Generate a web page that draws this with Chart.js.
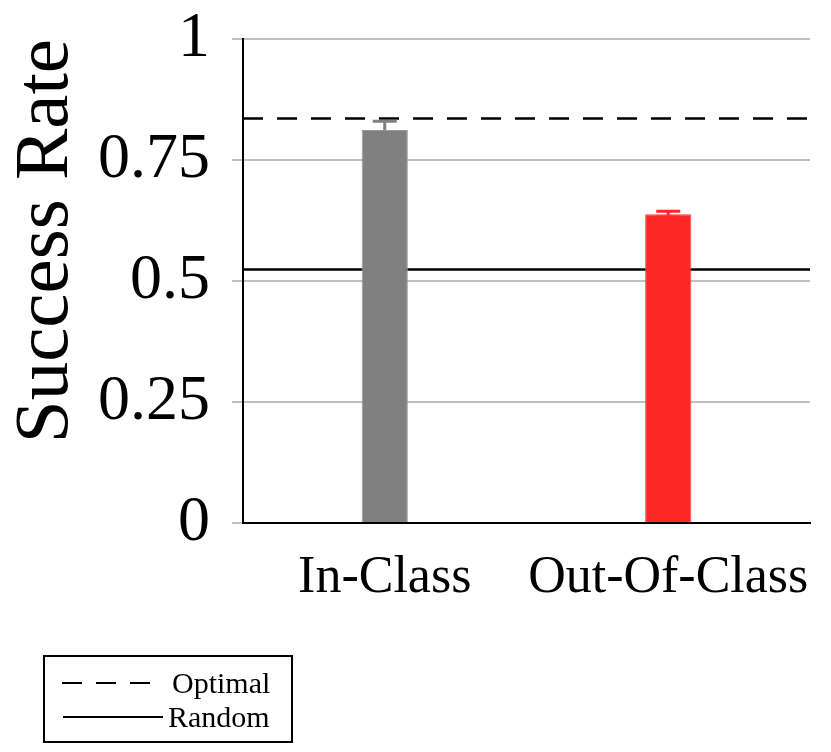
<!DOCTYPE html>
<html>
<head>
<meta charset="utf-8">
<script src="https://cdn.jsdelivr.net/npm/chart.js@4"></script>
<style>
  html, body { margin: 0; padding: 0; background: #fff; }
  #wrap { position: relative; width: 831px; height: 752px; }
  #legend {
    position: absolute; left: 43px; top: 655px; width: 250px; height: 88px;
    border: 2px solid #000; box-sizing: border-box;
    font-family: "Liberation Serif", serif; font-size: 30px; color: #000;
  }
  #legend .txt { position: absolute; height: 34px; line-height: 34px; }
  #legend svg { position: absolute; left: 0; top: 0; }
</style>
</head>
<body>
<div id="wrap">
  <canvas id="successChart" width="831" height="752"></canvas>
  <div id="legend">
    <svg width="246" height="84">
      <line x1="17" y1="26" x2="105" y2="26" stroke="#000" stroke-width="2" stroke-dasharray="20 14"/>
      <line x1="18" y1="60" x2="118" y2="60" stroke="#000" stroke-width="2"/>
    </svg>
    <span class="txt" style="left:127px;top:9px;">Optimal</span>
    <span class="txt" style="left:123px;top:43px;">Random</span>
  </div>
</div>
<script>
// Data
const categories = ['In-Class', 'Out-Of-Class'];
const successRates = [0.812, 0.638];
const errors = [0.018, 0.006];
const barColors = ['#808080', '#ff2626'];
const optimalRate = 0.836;
const randomRate = 0.524;
const yTicks = [0, 0.25, 0.5, 0.75, 1];

// horizontal reference lines + error bars, drawn under the bars
const refLines = {
    id: 'refLines',
    beforeDatasetsDraw(chart) {
        const { ctx, chartArea, scales } = chart;
        ctx.save();
        ctx.strokeStyle = '#000';
        ctx.lineWidth = 2.5;
        ctx.setLineDash([20, 14]);
        let y = scales.y.getPixelForValue(optimalRate);
        ctx.beginPath();
        ctx.moveTo(chartArea.left, y);
        ctx.lineTo(chartArea.right, y);
        ctx.stroke();
        ctx.setLineDash([]);
        y = scales.y.getPixelForValue(randomRate);
        ctx.beginPath();
        ctx.moveTo(chartArea.left, y);
        ctx.lineTo(chartArea.right, y);
        ctx.stroke();

        // error bars
        ctx.lineWidth = 3;
        successRates.forEach((v, i) => {
            const x = scales.x.getPixelForValue(i);
            const top = scales.y.getPixelForValue(v + errors[i]);
            const bot = scales.y.getPixelForValue(v - errors[i]);
            ctx.strokeStyle = barColors[i];
            ctx.beginPath();
            ctx.moveTo(x, top); ctx.lineTo(x, bot);
            ctx.moveTo(x - 12, top); ctx.lineTo(x + 12, top);
            ctx.moveTo(x - 12, bot); ctx.lineTo(x + 12, bot);
            ctx.stroke();
        });
        ctx.restore();
    }
};

const chart = new Chart(document.getElementById('successChart'), {
    type: 'bar',
    data: {
        labels: categories,
        datasets: [{
            data: successRates,
            backgroundColor: barColors,
            borderColor: ['#999999', '#ff4040'],
            borderWidth: 1,
            categoryPercentage: 1,
            barPercentage: 0.163
        }]
    },
    options: {
        responsive: false,
        animation: false,
        layout: { padding: { top: 39, right: 21, bottom: 0, left: 0 } },
        plugins: {
            legend: { display: false },
            tooltip: { enabled: false }
        },
        scales: {
            x: {
                afterFit: (s) => {
                    s.height = 229;
                    s.paddingLeft = 0;
                    s.paddingRight = 0;
                },
                grid: { display: false, drawTicks: false },
                border: { color: '#000', width: 2 },
                ticks: {
                    maxRotation: 0,
                    autoSkip: false,
                    padding: 24,
                    color: '#000',
                    font: { family: 'Liberation Serif', size: 52 }
                }
            },
            y: {
                min: 0,
                max: 1,
                afterFit: (s) => {
                    s.width = 243;
                    s.paddingTop = 0;
                    s.paddingBottom = 0;
                },
                afterBuildTicks: (s) => { s.ticks = yTicks.map(v => ({ value: v })); },
                grid: { color: '#c0c0c0', lineWidth: 2, tickLength: 11 },
                border: { color: '#000', width: 2 },
                ticks: {
                    padding: 22,
                    color: '#000',
                    font: { family: 'Liberation Serif', size: 64 },
                    callback: (v) => String(v)
                },
                title: {
                    display: true,
                    text: 'Success Rate',
                    align: 'end',
                    color: '#000',
                    padding: { top: 8, bottom: 0 },
                    font: { family: 'Liberation Serif', size: 77, lineHeight: 1 }
                }
            }
        }
    },
    plugins: [refLines]
});
</script>
</body>
</html>
